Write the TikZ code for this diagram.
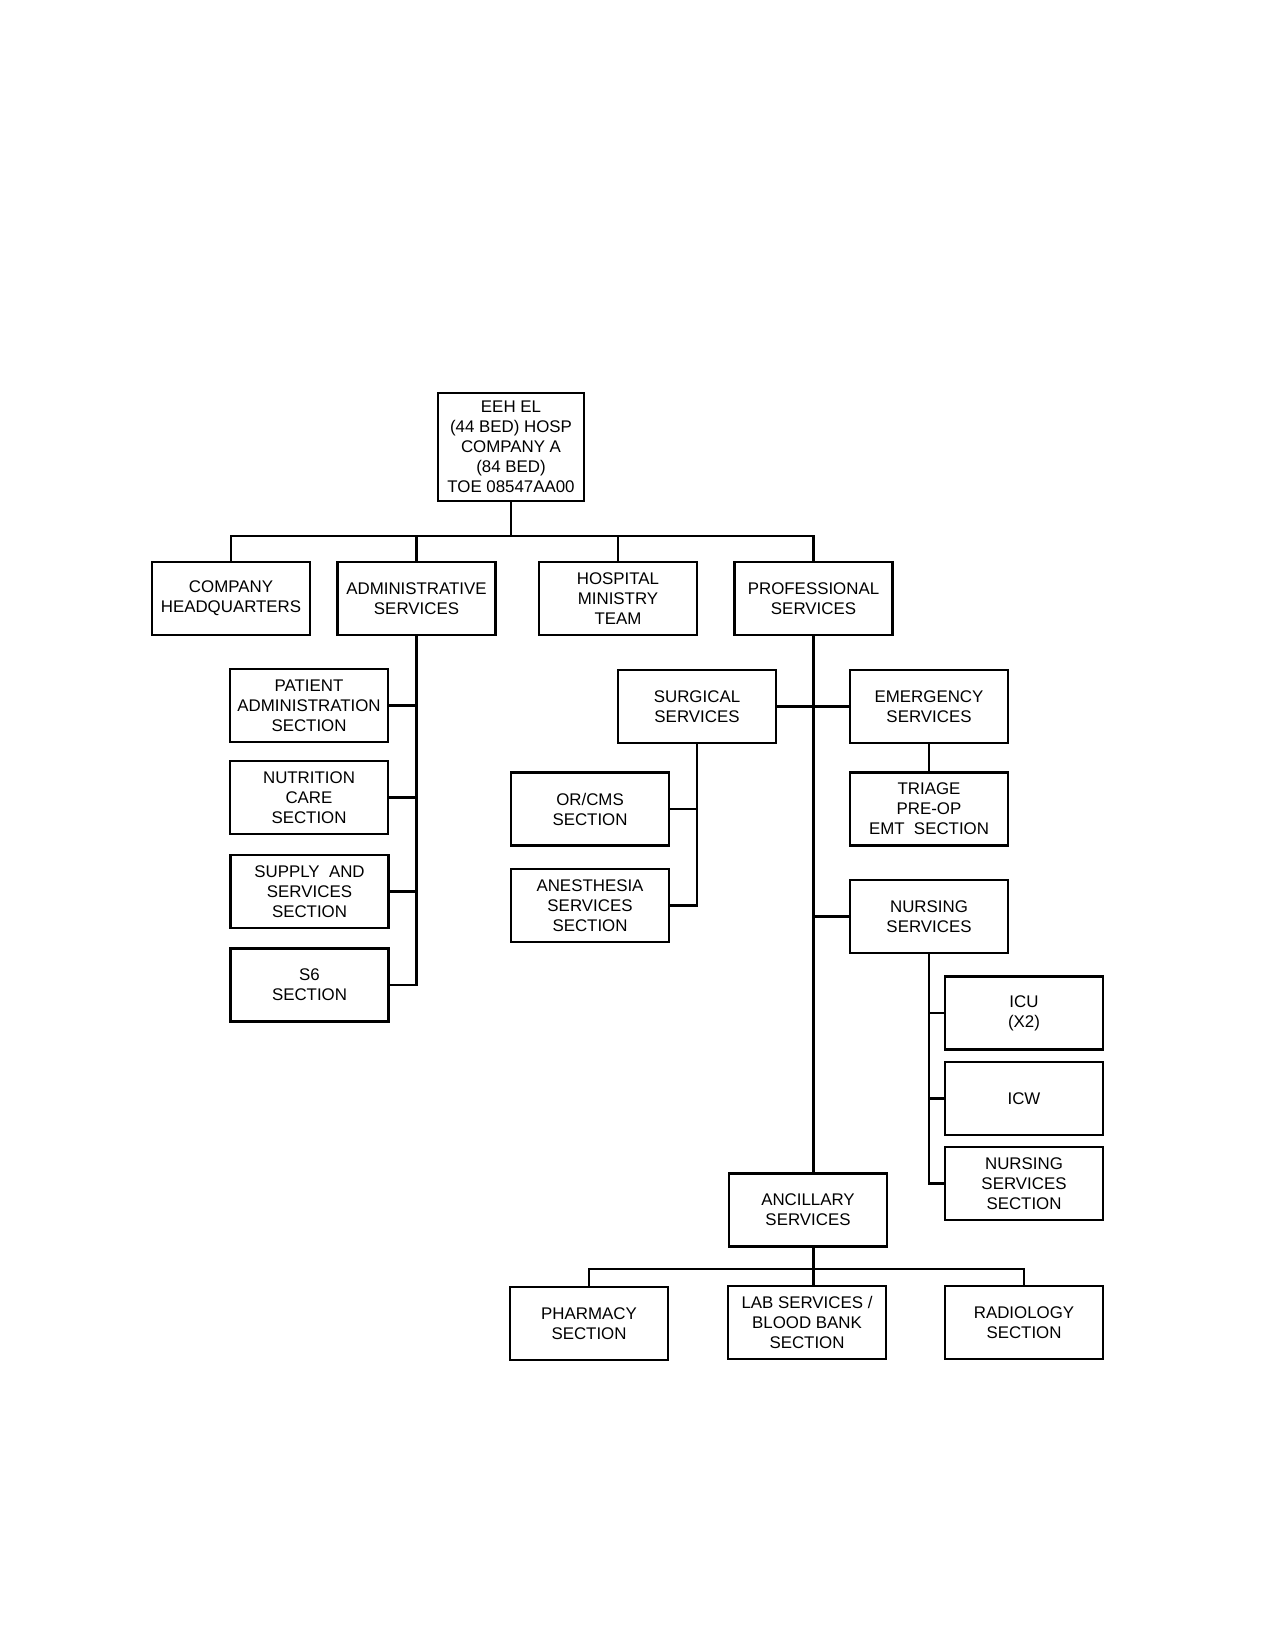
\documentclass[tikz,border=0pt]{standalone}
\usepackage{fontspec}
\setmainfont{Liberation Sans}
\usepackage{tikz}

\begin{document}
\begin{tikzpicture}[x=0.025cm,y=-0.025cm,
	unit/.style={draw,line width=1.6pt,align=center,minimum width=3.95cm,minimum height=1.82cm,inner sep=1pt,font=\fontsize{12}{14.2}\selectfont},
	link/.style={line width=1.6pt}]
				\useasboundingbox (0,0) rectangle (1281,1650);
				
				\node[unit,minimum width=3.65cm,minimum height=2.7cm] (eeh) at (511,447) {EEH EL\\(44 BED) HOSP\\COMPANY A\\(84 BED)\\TOE 08547AA00};
				
				\node[unit] (hq) at (231,598.5) {COMPANY\\HEADQUARTERS};
				\node[unit] (adm) at (416.5,598.5) {ADMINISTRATIVE\\SERVICES};
				\node[unit] (hmt) at (618,598.5) {HOSPITAL\\MINISTRY\\TEAM};
				\node[unit] (prof) at (813.5,598.5) {PROFESSIONAL\\SERVICES};
				
				\node[unit] (pad) at (309,705.5) {PATIENT\\ADMINISTRATION\\SECTION};
				\node[unit] (nut) at (309,797.5) {NUTRITION\\CARE\\SECTION};
				\node[unit] (sup) at (309.5,891.5) {SUPPLY~~AND\\SERVICES\\SECTION};
				\node[unit] (s6) at (309.5,985) {S6\\SECTION};
				
				\node[unit] (surg) at (697,706.5) {SURGICAL\\SERVICES};
				\node[unit] (orcms) at (590,809) {OR/CMS\\SECTION};
				\node[unit] (anes) at (590,905.5) {ANESTHESIA\\SERVICES\\SECTION};
				
				\node[unit] (emer) at (929,706.5) {EMERGENCY\\SERVICES};
				\node[unit] (tri) at (929,809) {TRIAGE\\PRE-OP\\EMT~~SECTION};
				
				\node[unit] (nurs) at (929,916.5) {NURSING\\SERVICES};
				\node[unit] (icu) at (1024,1013) {ICU\\(X2)};
				\node[unit] (icw) at (1024,1098.5) {ICW};
				\node[unit] (nss) at (1024,1183.5) {NURSING\\SERVICES\\SECTION};
				
				\node[unit] (anc) at (808,1210) {ANCILLARY\\SERVICES};
				\node[unit] (pha) at (589,1323.5) {PHARMACY\\SECTION};
				\node[unit] (lab) at (807,1322.5) {LAB SERVICES /\\BLOOD BANK\\SECTION};
				\node[unit] (rad) at (1024,1322.5) {RADIOLOGY\\SECTION};
				
				\coordinate (topbus) at (511,536);
				\coordinate (ancbus) at (813.5,1269);
				
				\draw[link] (eeh.south) -- (topbus);
				\draw[link] (hq.north) |- (topbus) -| (prof.north);
				\draw[link] (adm.north) -- (adm.north |- topbus);
				\draw[link] (hmt.north) -- (hmt.north |- topbus);
				
				\draw[link] (adm.south) |- (s6.east);
				\draw[link] (pad.east) -- (pad.east -| adm.south);
				\draw[link] (nut.east) -- (nut.east -| adm.south);
				\draw[link] (sup.east) -- (sup.east -| adm.south);
				
				\draw[link] (prof.south) -- (prof.south |- anc.north);
				\draw[link] (surg.east) -- (emer.west);
				\draw[link] (surg.south) |- (anes.east);
				\draw[link] (orcms.east) -- (orcms.east -| surg.south);
				\draw[link] (emer.south) -- (tri.north);
				\draw[link] (nurs.west) -- (nurs.west -| prof.south);
				\draw[link] (nurs.south) |- (nss.west);
				\draw[link] (icu.west) -- (icu.west -| nurs.south);
				\draw[link] (icw.west) -- (icw.west -| nurs.south);
				
				\draw[link] (anc.south -| prof.south) -- (ancbus);
				\draw[link] (pha.north) |- (ancbus) -| (rad.north);
				\draw[link] (lab.north -| ancbus) -- (ancbus);
\end{tikzpicture}
\end{document}
